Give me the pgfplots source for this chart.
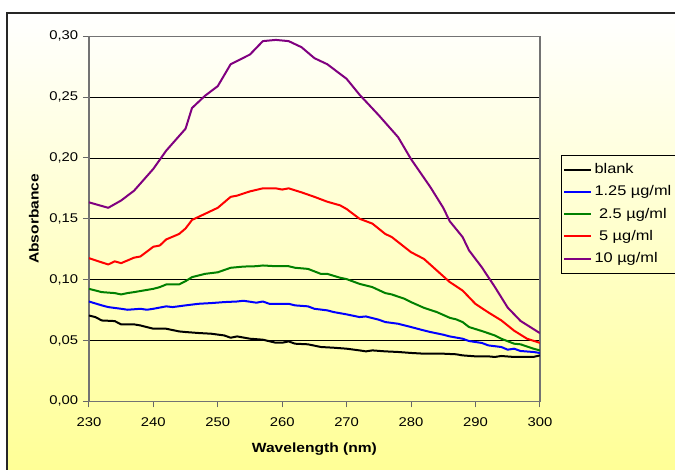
\documentclass[border=0pt]{standalone}
\usepackage{pgfplots}
\pgfplotsset{compat=1.18}
\usepackage{fontspec}
\setmainfont[FakeStretch=1.17]{Liberation Sans}
\definecolor{bgyellow}{RGB}{255,255,150}
\definecolor{xpurple}{RGB}{128,0,128}
\definecolor{xgreen}{RGB}{0,128,0}
\begin{document}
\begin{tikzpicture}[x=0.75pt,y=0.75pt]
\useasboundingbox (0,0) rectangle (675,470);
\clip (0,0) rectangle (675,470);
\shade[top color=white, bottom color=bgyellow] (7,0) rectangle (690,457);
\draw[line width=1pt, black!85] (7,-10) rectangle (690,457);
\begin{axis}[
  at={(138,56.5)}, anchor=south west,
  scale only axis, width=338.25pt, height=273.75pt,
  xmin=230, xmax=300, ymin=0, ymax=0.3,
  xtick={230,240,250,260,270,280,290,300},
  ytick={0,0.05,0.1,0.15,0.2,0.25,0.3},
  tick pos=left, tick align=outside,
  major tick length=4.5pt,
  tick style={black!60, line width=0.8pt},
  axis line style={black!55, line width=0.9pt},
  ymajorgrids, major grid style={black, line width=0.5pt},
  font=\fontsize{9.5}{11.4}\selectfont,
  /pgf/number format/assume math mode=true,
  yticklabel style={/pgf/number format/.cd, fixed, fixed zerofill, precision=2, use comma},
  xticklabel style={yshift=-4.5pt, /pgf/number format/.cd, fixed, precision=0, 1000 sep={}},
  xlabel={\fontsize{10}{12}\selectfont\bfseries Wavelength (nm)},
  ylabel={\fontsize{10}{12}\selectfont\bfseries Absorbance},
  xlabel style={at={(axis description cs:0.5,-0.131)}, anchor=center},
  ylabel style={at={(axis description cs:-0.122,0.5)}, anchor=center},
  legend style={at={(1.0466,0.674)}, anchor=north west, draw=black, fill=none,
    font=\fontsize{10.5}{12.6}\selectfont, row sep=3.6pt, inner xsep=1.5pt, inner ysep=4pt},
  legend cell align=left,
  legend image code/.code={\draw[#1] (0pt,0pt) -- (20pt,0pt);},
  every axis plot/.append style={line width=1.5pt, line join=round},
]
\addplot[black] coordinates {
(230,0.0705)(231,0.0692)(232,0.0664)(234,0.0659)(235,0.0632)(237,0.0632)(238,0.0623)
(240,0.0596)(242,0.0596)(244,0.0574)(245,0.0569)(247,0.0561)(249,0.0555)(251,0.0541)
(252,0.0522)(253,0.0533)(255,0.0514)(257,0.0506)(259,0.0481)(260,0.0481)(261,0.0492)
(262,0.0473)(264,0.0468)(266,0.0446)(268,0.0440)(270,0.0432)(272,0.0418)(273,0.0410)
(274,0.0418)(276,0.0410)(278,0.0405)(280,0.0397)(282,0.0391)(285,0.0391)(287,0.0386)
(288,0.0377)(290,0.0369)(292,0.0369)(293,0.0364)(294,0.0372)(296,0.0364)(299,0.0364)
(300,0.0377)};
\addlegendentry{blank}
\addplot[blue] coordinates {
(230,0.0820)(232,0.0788)(233,0.0774)(235,0.0760)(236,0.0752)(238,0.0760)(239,0.0752)
(240,0.0760)(242,0.0780)(243,0.0774)(245,0.0788)(247,0.0801)(249,0.0807)(251,0.0815)
(253,0.0820)(254,0.0826)(255,0.0818)(256,0.0810)(257,0.0820)(258,0.0801)(261,0.0801)
(262,0.0788)(264,0.0780)(265,0.0760)(267,0.0747)(268,0.0733)(270,0.0714)(272,0.0692)
(273,0.0697)(275,0.0670)(276,0.0651)(278,0.0637)(280,0.0610)(282,0.0582)(283,0.0569)
(285,0.0547)(286,0.0533)(288,0.0514)(289,0.0495)(291,0.0479)(292,0.0459)(294,0.0446)
(295,0.0424)(296,0.0432)(297,0.0413)(299,0.0405)(300,0.0397)};
\addlegendentry{1.25 µg/ml}
\addplot[xgreen] coordinates {
(230,0.0924)(232,0.0897)(234,0.0889)(235,0.0878)(236,0.0889)(237,0.0897)(240,0.0924)
(241,0.0938)(242,0.0960)(244,0.0960)(245,0.0987)(246,0.1020)(248,0.1047)(250,0.1060)
(252,0.1097)(254,0.1107)(256,0.1110)(257,0.1116)(259,0.1110)(261,0.1110)(262,0.1097)
(264,0.1088)(266,0.1047)(267,0.1047)(269,0.1015)(270,0.1004)(272,0.0965)(274,0.0938)
(276,0.0889)(277,0.0878)(279,0.0842)(280,0.0815)(282,0.0768)(284,0.0733)(286,0.0686)
(287,0.0673)(288,0.0651)(289,0.0610)(291,0.0577)(293,0.0541)(294,0.0514)(296,0.0473)
(297,0.0468)(299,0.0432)(300,0.0418)};
\addlegendentry{\ 2.5 µg/ml}
\addplot[red] coordinates {
(230,0.1176)(233,0.1124)(234,0.1150)(235,0.1135)(237,0.1180)(238,0.1190)(240,0.1270)
(241,0.1280)(242,0.1330)(244,0.1375)(245,0.1420)(246,0.1490)(248,0.1540)(250,0.1590)
(252,0.1680)(253,0.1690)(255,0.1725)(257,0.1750)(259,0.1750)(260,0.1740)(261,0.1750)
(263,0.1717)(265,0.1680)(267,0.1640)(269,0.1610)(270,0.1580)(272,0.1500)(274,0.1460)
(276,0.1375)(277,0.1350)(280,0.1225)(282,0.1170)(284,0.1075)(286,0.0980)(288,0.0910)
(290,0.0800)(292,0.0730)(294,0.0665)(296,0.0580)(298,0.0514)(300,0.0480)};
\addlegendentry{\ 5 µg/ml}
\addplot[xpurple] coordinates {
(230,0.1635)(233,0.1590)(235,0.1650)(237,0.1730)(240,0.1910)(242,0.2060)(245,0.2240)
(246,0.2410)(248,0.2510)(250,0.2590)(252,0.2770)(255,0.2850)(257,0.2960)(259,0.2970)
(261,0.2960)(263,0.2910)(265,0.2820)(267,0.2770)(270,0.2650)(272,0.2520)(275,0.2350)
(278,0.2170)(280,0.1990)(283,0.1760)(285,0.1590)(286,0.1480)(288,0.1350)(289,0.1240)
(291,0.1100)(293,0.0940)(295,0.0770)(297,0.0660)(300,0.0560)};
\addlegendentry{10 µg/ml}
\end{axis}
\end{tikzpicture}
\end{document}
